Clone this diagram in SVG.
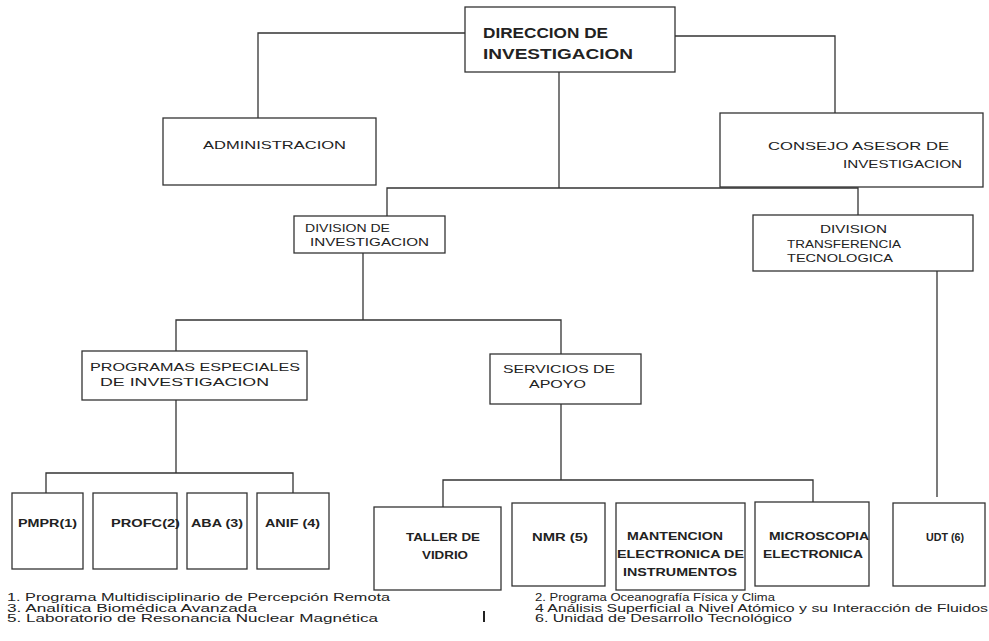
<svg xmlns="http://www.w3.org/2000/svg" width="989" height="641" viewBox="0 0 989 641">
<style>
.b{fill:#fff;stroke:#333;stroke-width:1.3}
.c{fill:none;stroke:#333;stroke-width:1.3}
text{font-family:"Liberation Sans",Arial,sans-serif;fill:#222}
.t{font-size:10.5px}
.h{font-size:14px;font-weight:bold}
.s{font-size:10px;font-weight:bold}
.l{font-size:10px}
</style>
<rect width="989" height="641" fill="#fff"/>
<g id="connectors">
<path class="c" d="M465 33H258V118"/>
<path class="c" d="M675 36H835V113"/>
<path class="c" d="M559 72V188"/>
<path class="c" d="M387 216V188H858V215"/>
<path class="c" d="M363 253V320"/>
<path class="c" d="M176 351V320H561V354"/>
<path class="c" d="M176 400V473"/>
<path class="c" d="M46 493V473H293V493"/>
<path class="c" d="M561 404V480"/>
<path class="c" d="M443 507V480H813V502"/>
<path class="c" d="M937 271V497"/>
</g>
<g id="direccion"><rect class="b" x="465" y="7" width="210" height="65"/>
<text class="h" x="483" y="38" textLength="125" lengthAdjust="spacingAndGlyphs">DIRECCION DE</text>
<text class="h" x="483" y="59" textLength="150" lengthAdjust="spacingAndGlyphs">INVESTIGACION</text></g>
<g id="administracion"><rect class="b" x="163" y="118" width="213" height="67"/>
<text class="t" x="203" y="149" textLength="143" lengthAdjust="spacingAndGlyphs">ADMINISTRACION</text></g>
<g id="consejo"><rect class="b" x="720" y="113" width="263" height="74"/>
<text class="t" x="768" y="150" textLength="181" lengthAdjust="spacingAndGlyphs">CONSEJO ASESOR DE</text>
<text class="t" x="843" y="168" textLength="119" lengthAdjust="spacingAndGlyphs">INVESTIGACION</text></g>
<g id="division-investigacion"><rect class="b" x="294" y="216" width="151" height="37"/>
<text class="t" x="305" y="232" textLength="85" lengthAdjust="spacingAndGlyphs">DIVISION DE</text>
<text class="t" x="310" y="246" textLength="119" lengthAdjust="spacingAndGlyphs">INVESTIGACION</text></g>
<g id="division-transferencia"><rect class="b" x="753" y="215" width="220" height="56"/>
<text class="t" x="820" y="233" textLength="67" lengthAdjust="spacingAndGlyphs">DIVISION</text>
<text class="t" x="787" y="248" textLength="114" lengthAdjust="spacingAndGlyphs">TRANSFERENCIA</text>
<text class="t" x="787" y="262" textLength="106" lengthAdjust="spacingAndGlyphs">TECNOLOGICA</text></g>
<g id="programas"><rect class="b" x="82" y="351" width="225" height="49"/>
<text class="t" x="90" y="371" textLength="210" lengthAdjust="spacingAndGlyphs">PROGRAMAS ESPECIALES</text>
<text class="t" x="100" y="386" textLength="169" lengthAdjust="spacingAndGlyphs">DE INVESTIGACION</text></g>
<g id="servicios"><rect class="b" x="490" y="354" width="151" height="50"/>
<text class="t" x="503" y="373" textLength="112" lengthAdjust="spacingAndGlyphs">SERVICIOS DE</text>
<text class="t" x="529" y="388" textLength="57" lengthAdjust="spacingAndGlyphs">APOYO</text></g>
<g id="pmpr"><rect class="b" x="12" y="493" width="71" height="76"/>
<text class="s" x="18" y="527" textLength="59" lengthAdjust="spacingAndGlyphs">PMPR(1)</text></g>
<g id="profc"><rect class="b" x="93" y="493" width="84" height="76"/>
<text class="s" x="111" y="527" textLength="69" lengthAdjust="spacingAndGlyphs">PROFC(2)</text></g>
<g id="aba"><rect class="b" x="187" y="493" width="60" height="76"/>
<text class="s" x="191" y="527" textLength="52" lengthAdjust="spacingAndGlyphs">ABA (3)</text></g>
<g id="anif"><rect class="b" x="257" y="493" width="72" height="76"/>
<text class="s" x="265" y="527" textLength="55" lengthAdjust="spacingAndGlyphs">ANIF (4)</text></g>
<g id="taller"><rect class="b" x="374" y="507" width="127" height="83"/>
<text class="s" x="406" y="541" textLength="74" lengthAdjust="spacingAndGlyphs">TALLER DE</text>
<text class="s" x="422" y="559" textLength="46" lengthAdjust="spacingAndGlyphs">VIDRIO</text></g>
<g id="nmr"><rect class="b" x="512" y="503" width="93" height="83"/>
<text class="s" x="532" y="541" textLength="56" lengthAdjust="spacingAndGlyphs">NMR (5)</text></g>
<g id="mantencion"><rect class="b" x="616" y="503" width="129" height="87"/>
<text class="s" x="627" y="540" textLength="96" lengthAdjust="spacingAndGlyphs">MANTENCION</text>
<text class="s" x="617" y="558" textLength="127" lengthAdjust="spacingAndGlyphs">ELECTRONICA DE</text>
<text class="s" x="623" y="576" textLength="114" lengthAdjust="spacingAndGlyphs">INSTRUMENTOS</text></g>
<g id="microscopia"><rect class="b" x="755" y="502" width="114" height="84"/>
<text class="s" x="769" y="540" textLength="100" lengthAdjust="spacingAndGlyphs">MICROSCOPIA</text>
<text class="s" x="763" y="558" textLength="100" lengthAdjust="spacingAndGlyphs">ELECTRONICA</text></g>
<g id="udt"><rect class="b" x="893" y="503" width="92" height="83"/>
<text class="s" x="926" y="541" textLength="38" lengthAdjust="spacingAndGlyphs">UDT (6)</text></g>
<g id="legend">
<text class="l" x="7" y="601" textLength="383" lengthAdjust="spacingAndGlyphs">1. Programa Multidisciplinario de Percepción Remota</text>
<text class="l" x="7" y="612" textLength="250" lengthAdjust="spacingAndGlyphs">3. Analítica Biomédica Avanzada</text>
<text class="l" x="7" y="622" textLength="371" lengthAdjust="spacingAndGlyphs">5. Laboratorio de Resonancia Nuclear Magnética</text>
<text class="l" x="535" y="601" textLength="240" lengthAdjust="spacingAndGlyphs">2. Programa Oceanografía Física y Clima</text>
<text class="l" x="535" y="612" textLength="453" lengthAdjust="spacingAndGlyphs">4  Análisis Superficial a Nivel Atómico y su Interacción de Fluidos</text>
<text class="l" x="535" y="622" textLength="257" lengthAdjust="spacingAndGlyphs">6. Unidad de Desarrollo Tecnológico</text>
<rect x="483" y="611" width="2" height="11" fill="#222"/>
</g>
</svg>
